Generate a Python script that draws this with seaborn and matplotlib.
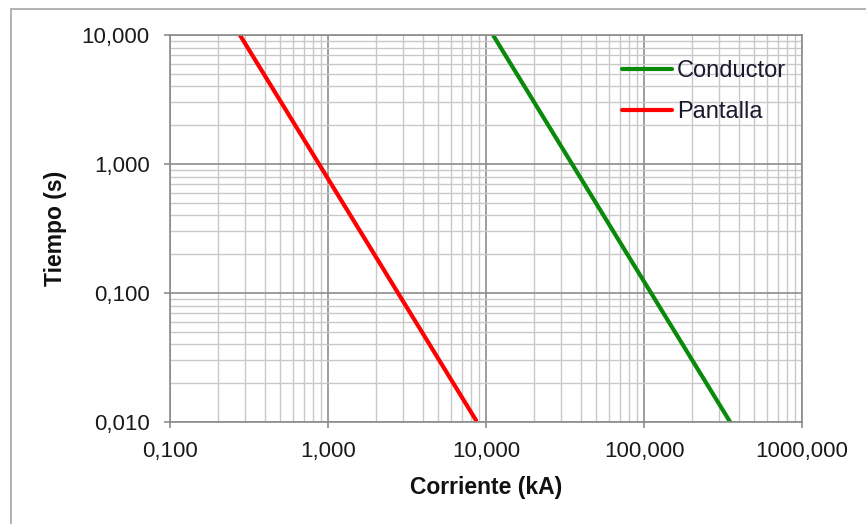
import matplotlib
matplotlib.use("Agg")
import matplotlib.pyplot as plt
import seaborn as sns
import pandas as pd
from matplotlib.ticker import FixedLocator, FuncFormatter, LogLocator, NullFormatter
from matplotlib.patches import Rectangle

# Data (endpoints of straight lines on log-log axes)
conductor_corriente = [11.07, 360.0]
conductor_tiempo = [10.0, 0.0095]
pantalla_corriente = [0.277, 8.65]
pantalla_tiempo = [10.0, 0.0103]

series_names = ["Conductor", "Pantalla"]
x_ticks = [0.1, 1, 10, 100, 1000]
y_ticks = [0.01, 0.1, 1, 10]

sns.set_theme(style="white")
plt.rcParams["font.family"] = ["Liberation Sans", "DejaVu Sans"]

df = pd.concat([
    pd.DataFrame({"Corriente": conductor_corriente, "Tiempo": conductor_tiempo, "Serie": series_names[0]}),
    pd.DataFrame({"Corriente": pantalla_corriente, "Tiempo": pantalla_tiempo, "Serie": series_names[1]}),
])

W, H = 866, 524
fig = plt.figure(figsize=(8.66, 5.24), dpi=100)
ax = fig.add_axes([170/W, 1-422/H, (802-170)/W, (422-35)/H])

# outer border (left and top visible)
fig.patches.append(Rectangle((11/W, -0.1), 1.2, 1 - 9/H + 0.1, transform=fig.transFigure,
                             fill=False, edgecolor="#a6a6a6", linewidth=1.2, zorder=0))

sns.lineplot(data=df, x="Corriente", y="Tiempo", hue="Serie",
             palette={"Conductor": "#0a8a0a", "Pantalla": "#ff0000"},
             linewidth=3, ax=ax, sort=False, estimator=None, legend=True)

ax.set_xscale("log")
ax.set_yscale("log")
ax.set_xlim(0.1, 1000)
ax.set_ylim(0.01, 10)

ax.xaxis.set_major_locator(FixedLocator(x_ticks))
ax.yaxis.set_major_locator(FixedLocator(y_ticks))
ax.xaxis.set_minor_locator(LogLocator(base=10, subs=range(2, 10)))
ax.yaxis.set_minor_locator(LogLocator(base=10, subs=range(2, 10)))
ax.xaxis.set_minor_formatter(NullFormatter())
ax.yaxis.set_minor_formatter(NullFormatter())
fmt = FuncFormatter(lambda v, p: f"{v:.3f}".replace(".", ","))
ax.xaxis.set_major_formatter(fmt)
ax.yaxis.set_major_formatter(fmt)

ax.grid(which="major", color="#8c8c8c", linewidth=1.2)
ax.grid(which="minor", color="#c8c8c8", linewidth=1.0)
ax.set_axisbelow(True)

for s in ax.spines.values():
    s.set_color("#8c8c8c")
    s.set_linewidth(1.2)

ax.tick_params(axis="both", which="major", direction="out", length=4.5, width=1.2,
               color="#8c8c8c", labelsize=16, labelcolor="#1a1a1a", left=True, bottom=True)
ax.tick_params(axis="x", which="major", pad=9.5)
ax.tick_params(axis="y", which="major", pad=10)
ax.tick_params(axis="both", which="minor", length=0)

ax.set_xlabel("Corriente (kA)", fontsize=16.5, fontweight="bold", color="#111111")
ax.set_ylabel("Tiempo (s)", fontsize=16.5, fontweight="bold", color="#111111")
ax.xaxis.set_label_coords(0.5, (422-476)/387)
ax.yaxis.set_label_coords((67-170)/632, 0.5)

leg = ax.legend(loc="upper right", bbox_to_anchor=(1.008, 0.99), frameon=False, fontsize=17,
                handlelength=2.1, handletextpad=0.2, labelspacing=0.82, borderaxespad=0.5)
for line in leg.get_lines():
    line.set_linewidth(3)
for t in leg.get_texts():
    t.set_color("#1a1a2e")

fig.savefig("out.png", dpi=100)
